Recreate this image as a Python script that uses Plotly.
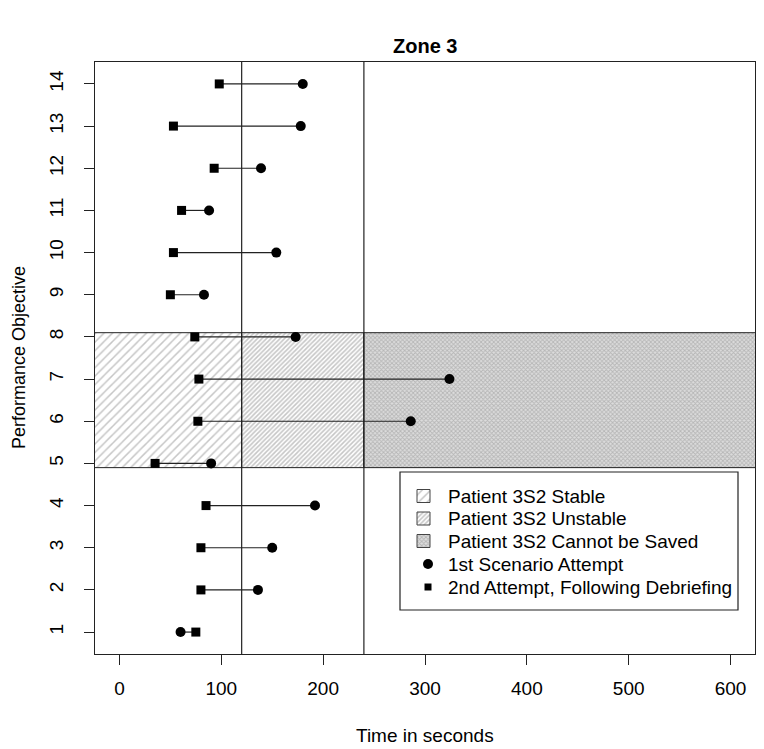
import plotly.graph_objects as go

objectives = list(range(1, 15))
first_attempt = [60, 136, 150, 192, 90, 286, 324, 173, 83, 154, 88, 139, 178, 180]
second_attempt = [75, 80, 80, 85, 35, 77, 78, 74, 50, 53, 61, 93, 53, 98]

zone_low, zone_high = 4.9, 8.1
stable_end, unstable_end = 120, 240
x_ticks = [0, 100, 200, 300, 400, 500, 600]

legend_labels = ["Patient 3S2 Stable", "Patient 3S2 Unstable",
                 "Patient 3S2 Cannot be Saved", "1st Scenario Attempt",
                 "2nd Attempt, Following Debriefing"]

FONT = "Liberation Sans, Arial, sans-serif"
FS = 19

patterns = [
    dict(shape="/", size=6, solidity=0.25, fgcolor="#8e8e8e", bgcolor="white"),
    dict(shape="/", size=3.2, solidity=0.5, fgcolor="#8e8e8e", bgcolor="white"),
    dict(shape="x", size=3, solidity=0.5, fgcolor="#909090", bgcolor="#dcdcdc"),
]

fig = go.Figure()

# shaded zone regions
bounds = [(-40, stable_end), (stable_end, unstable_end), (unstable_end, 700)]
for (x0, x1), pat in zip(bounds, patterns):
    fig.add_trace(go.Scatter(
        x=[x0, x1, x1, x0, x0], y=[zone_low, zone_low, zone_high, zone_high, zone_low],
        mode="lines", fill="toself", fillpattern=pat, fillcolor="white",
        line=dict(color="#222", width=1), hoverinfo="skip", showlegend=False))

# segments between attempts
seg_x, seg_y = [], []
for o, a, b in zip(objectives, first_attempt, second_attempt):
    seg_x += [a, b, None]
    seg_y += [o, o, None]
fig.add_trace(go.Scatter(x=seg_x, y=seg_y, mode="lines",
                         line=dict(color="#222", width=1.2), showlegend=False, hoverinfo="skip"))

fig.add_trace(go.Scatter(x=first_attempt, y=objectives, mode="markers",
                         marker=dict(symbol="circle", size=10, color="black"),
                         name=legend_labels[3], showlegend=False))
fig.add_trace(go.Scatter(x=second_attempt, y=objectives, mode="markers",
                         marker=dict(symbol="square", size=9, color="black"),
                         name=legend_labels[4], showlegend=False))

# vertical threshold lines
for xv in (stable_end, unstable_end):
    fig.add_shape(type="line", x0=xv, x1=xv, y0=0, y1=1, xref="x", yref="paper",
                  line=dict(color="#222", width=1.2), layer="above")

# page offset (browser body margin) compensation
OFF = 8
W, H = 764 - OFF, 749 - OFF
# plot area in reference pixel coordinates
L, R, T, B = 95, 755, 62, 654

# ---- manual legend on an overlay pixel-coordinate axis ----
fig.add_shape(type="rect", xref="x2", yref="y2", x0=400, x1=738, y0=472, y1=610,
              line=dict(color="#222", width=1.2), fillcolor="white", layer="below")
row_y = [496, 518.5, 541, 564, 587]
for yy, pat in zip(row_y[:3], patterns):
    fig.add_trace(go.Scatter(
        x=[417, 430, 430, 417, 417], y=[yy + 6.5, yy + 6.5, yy - 6.5, yy - 6.5, yy + 6.5],
        xaxis="x2", yaxis="y2", mode="lines", fill="toself", fillpattern=pat,
        fillcolor="white", line=dict(color="#444", width=1), hoverinfo="skip", showlegend=False))
fig.add_trace(go.Scatter(x=[428], y=[row_y[3]], xaxis="x2", yaxis="y2", mode="markers",
                         marker=dict(symbol="circle", size=10, color="black"),
                         hoverinfo="skip", showlegend=False))
fig.add_trace(go.Scatter(x=[428], y=[row_y[4]], xaxis="x2", yaxis="y2", mode="markers",
                         marker=dict(symbol="square", size=7, color="black"),
                         hoverinfo="skip", showlegend=False))
for yy, lab in zip(row_y, legend_labels):
    fig.add_annotation(x=446, y=yy, xref="x2", yref="y2", text=lab, showarrow=False,
                       xanchor="left", yanchor="middle",
                       font=dict(family=FONT, size=FS, color="black"))

# axis titles and main title
fig.add_annotation(x=0.5, y=0, xref="paper", yref="paper", text="Time in seconds",
                   showarrow=False, yanchor="middle", yshift=-81,
                   font=dict(family=FONT, size=FS, color="black"))
fig.add_annotation(x=0, y=0.5, xref="paper", yref="paper", text="Performance Objective",
                   showarrow=False, xanchor="center", textangle=-90, xshift=-76,
                   font=dict(family=FONT, size=FS - 1, color="black"))
fig.add_annotation(x=0.5, y=1, xref="paper", yref="paper", text="<b>Zone 3</b>",
                   showarrow=False, yanchor="middle", yshift=16,
                   font=dict(family=FONT, size=20, color="black"))

fig.update_layout(
    width=W, height=H,
    margin=dict(l=L - OFF, r=764 - R, t=T - OFF, b=749 - B, autoexpand=False),
    paper_bgcolor="white", plot_bgcolor="white",
    font=dict(family=FONT, size=FS, color="black"),
    showlegend=False,
    xaxis=dict(range=[-24, 624], tickvals=x_ticks, ticks="outside", ticklen=10,
               tickcolor="#222", showline=True, linecolor="#222", linewidth=1.2,
               mirror=True, showgrid=False, zeroline=False, ticklabelstandoff=7,
               tickfont=dict(family=FONT, size=FS)),
    yaxis=dict(range=[0.48, 14.52], tickvals=objectives, ticks="outside", ticklen=10,
               tickcolor="#222", showline=True, linecolor="#222", linewidth=1.2,
               mirror=True, showgrid=False, zeroline=False, tickangle=-90,
               ticklabelstandoff=13, tickfont=dict(family=FONT, size=FS)),
    xaxis2=dict(overlaying="x", range=[L, R], visible=False, fixedrange=True),
    yaxis2=dict(overlaying="y", range=[B, T], visible=False, fixedrange=True),
)

fig.write_html("out.html")
